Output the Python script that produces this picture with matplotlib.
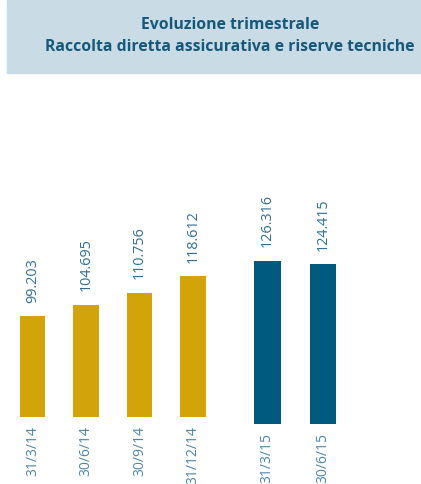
import matplotlib
matplotlib.use('Agg')
import matplotlib.pyplot as plt
from matplotlib.patches import Rectangle

# quarterly values (thousands of euro millions, italian formatting)
dates_2014 = ['31/3/14', '30/6/14', '30/9/14', '31/12/14']
values_2014 = [99.203, 104.695, 110.756, 118.612]
dates_2015 = ['31/3/15', '30/6/15']
values_2015 = [126.316, 124.415]

title_lines = ['Evoluzione trimestrale',
               'Raccolta diretta assicurativa e riserve tecniche']

YELLOW = '#d3a40a'
BLUE = '#005a7f'
VAL_COL = '#2e6f92'
TICK_COL = '#4a86a8'

plt.rcParams['font.family'] = ['Open Sans', 'DejaVu Sans']

fig = plt.figure(figsize=(4.21, 4.84), dpi=100)

# header band
fig.patches.append(Rectangle((7 / 421, 1 - 73 / 484), 1 - 7 / 421, 73 / 484,
                             transform=fig.transFigure, color='#c9dbe5', zorder=0))
fig.text(230 / 421, 1 - 25 / 484, title_lines[0], ha='center', va='center',
         fontsize=11.3, fontweight='bold', color='#17587a')
fig.text(230 / 421, 1 - 47 / 484, title_lines[1], ha='center', va='center',
         fontsize=11.3, fontweight='bold', color='#17587a')

ax = fig.add_axes([0, 60 / 484, 1, 224 / 484])
ax.set_xlim(-0.607, 7.262)
ax.set_ylim(47, 155.7)
ax.axis('off')

x14 = [0, 1, 2, 3]
x15 = [4.39, 5.43]
base14, base15 = 50.5, 47.0

def draw_group(xs, vals, dates, base, color, width):
    ax.bar(xs, [v - base for v in vals], bottom=base, width=width, color=color)
    for x, v, d in zip(xs, vals, dates):
        ax.annotate(f'{v:.3f}', (x, v), xytext=(0, 10), textcoords='offset points',
                    rotation=90, ha='center', va='bottom', fontsize=10.4, color=VAL_COL)
        ax.annotate(d, (x, base), xytext=(0, -6.5), textcoords='offset points',
                    rotation=90, ha='center', va='top', fontsize=10, color=TICK_COL,
                    annotation_clip=False)

draw_group(x14, values_2014, dates_2014, base14, YELLOW, 0.48)
draw_group(x15, values_2015, dates_2015, base15, BLUE, 0.5)

fig.savefig('out.png', dpi=100)
